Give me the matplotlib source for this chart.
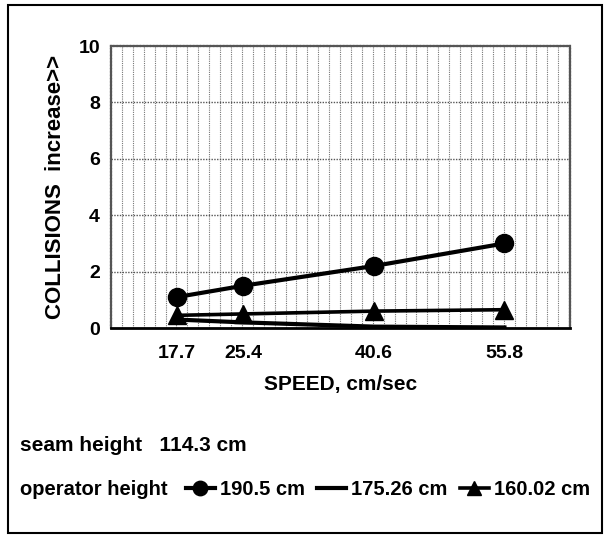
import numpy as np
import matplotlib
matplotlib.use("Agg")
import matplotlib.pyplot as plt
from matplotlib.patches import Rectangle

# Datos
speed = [17.7, 25.4, 40.6, 55.8]
h_190 = [1.1, 1.5, 2.2, 3.0]
h_175 = [0.3, 0.2, 0.05, 0.02]
h_160 = [0.45, 0.5, 0.6, 0.65]
y_ticks = [0, 2, 4, 6, 8, 10]

fuente = ['Liberation Sans', 'DejaVu Sans']
plt.rcParams['font.family'] = fuente
plt.rcParams['font.weight'] = 'bold'

fig = plt.figure(figsize=(6.1, 5.36), dpi=100)
ax = fig.add_axes([0.182, 0.388, 0.752, 0.526])

# Series
ax.plot(speed, h_190, color='black', lw=3, marker='o', ms=13, label='190.5 cm', zorder=5)
ax.plot(speed, h_175, color='black', lw=3, label='175.26 cm', zorder=4)
ax.plot(speed, h_160, color='black', lw=2.6, marker='^', ms=13, label='160.02 cm', zorder=4)

ax.set_xlim(10, 63.4)
ax.set_ylim(0, 10)
ax.set_xticks(speed)
ax.set_xticklabels([str(s) for s in speed])
ax.set_yticks(y_ticks)
ax.tick_params(axis='x', length=0, labelsize=14, pad=12)
ax.tick_params(axis='y', length=0, labelsize=14, pad=8)
for lbl in ax.get_xticklabels() + ax.get_yticklabels():
    lbl.set_fontweight('bold')

# Rejilla densa, tipo papel milimetrado
for gx in np.arange(11.27, 63.4, 1.27):
    ax.axvline(gx, color='#777777', lw=0.8, ls=(0, (1, 1)), zorder=1)
for gy in y_ticks[1:-1]:
    ax.axhline(gy, color='#555555', lw=1.0, ls=(0, (1, 1)), zorder=1)

for s in ['top', 'left', 'right']:
    ax.spines[s].set_color('#555555')
    ax.spines[s].set_linewidth(1.6)
    ax.spines[s].set_linestyle((0, (1, 0.5)))
ax.spines['bottom'].set_color('black')
ax.spines['bottom'].set_linewidth(2)

ax.set_xlabel('SPEED, cm/sec', fontsize=15, fontweight='bold', va='center')
ax.xaxis.set_label_coords(0.5, -0.202)
ax.set_ylabel('COLLISIONS  increase>>', fontsize=16, fontweight='bold', va='center')
ax.yaxis.set_label_coords(-0.122, 0.5)

# Leyenda inferior
fig.text(0.033, 0.168, 'seam height   114.3 cm', fontsize=15, fontweight='bold', va='center')
fig.text(0.033, 0.086, 'operator height', fontsize=14.5, fontweight='bold', va='center')
handles, labels = ax.get_legend_handles_labels()
fig.legend(handles, labels, ncol=3, loc='center left', bbox_to_anchor=(0.275, 0.086),
           frameon=False, handlelength=1.45, handletextpad=0.25, borderpad=0.4,
           columnspacing=0.6, markerscale=0.8,
           prop={'weight': 'bold', 'size': 14.5, 'family': fuente})

# Marco exterior
fig.patches.append(Rectangle((0.013, 0.0056), 0.974, 0.985, transform=fig.transFigure,
                             fill=False, edgecolor='black', lw=1.5))

fig.savefig('out.png', dpi=100)
